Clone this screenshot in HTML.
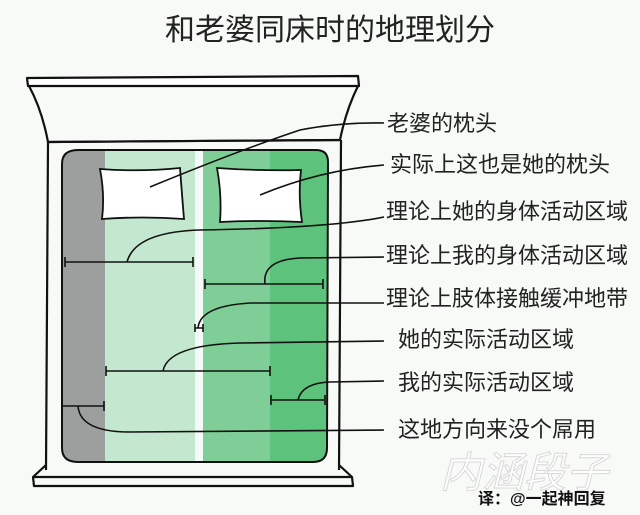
<!DOCTYPE html>
<html><head><meta charset="utf-8"><style>
html,body{margin:0;padding:0;background:#f7faf7;}
svg{display:block}
text{font-family:"Liberation Sans","Noto Sans CJK SC",sans-serif;fill:#222}
</style></head><body>
<svg width="640" height="515" viewBox="0 0 640 515" xmlns="http://www.w3.org/2000/svg">
<rect width="640" height="515" fill="#f7faf7"/>
<text x="330" y="40" font-size="30" text-anchor="middle">和老婆同床时的地理划分</text>
<g fill="none" stroke="#111" stroke-width="2.2" stroke-linejoin="round">
<path d="M27,78 L358,76 L359,86 L28,86 Z" fill="#fff"/>
<path d="M29,86 Q42,110 48,142 L340,140 Q346,110 358,86"/>
<line x1="48" y1="142" x2="340" y2="140"/>
<path d="M48,142 L46,470 M341,140 L339,470"/>
<path d="M46,465 L33,477 L34,486 L353,486 L352,477 L339,465"/>
<line x1="34" y1="477" x2="352" y2="477"/>
</g>
<defs><clipPath id="m"><path d="M78,150 L316,150 Q328,150 328,162 L327,448 Q327,462 313,462 L78,462 Q62,462 62,448 L62,164 Q62,150 78,150 Z"/></clipPath></defs>
<g clip-path="url(#m)">
<rect x="60" y="148" width="45" height="320" fill="#9d9f9e"/>
<rect x="105" y="148" width="90" height="320" fill="#c3e8cf"/>
<rect x="195" y="148" width="8" height="320" fill="#f4faf5"/>
<rect x="203" y="148" width="67" height="320" fill="#7fce97"/>
<rect x="270" y="148" width="60" height="320" fill="#5dc27c"/>
</g>
<path d="M78,150 L316,150 Q328,150 328,162 L327,448 Q327,462 313,462 L78,462 Q62,462 62,448 L62,164 Q62,150 78,150 Z" fill="none" stroke="#111" stroke-width="2"/>
<g fill="#fff" stroke="#111" stroke-width="1.8">
<path d="M100,169 Q140,172 180,168 Q182,195 184,219 Q142,216 102,219 Q105,195 100,169 Z"/>
<path d="M217,168 Q258,171 301,170 Q298,195 302,222 Q260,220 220,222 Q222,195 217,168 Z"/>
</g>
<g fill="none" stroke="#111" stroke-width="1.6">
<path d="M150,187 Q240,150 300,130 Q340,122 384,123"/>
<path d="M260,195 Q320,170 384,165"/>
<path d="M65,262 L193,262 M65,257 V267 M193,257 V267"/>
<path d="M127,262 Q135,232 200,230 Q330,228 384,217"/>
<path d="M205,284 L323,284 M205,279 V289 M323,279 V289"/>
<path d="M265,284 Q262,260 300,258 L384,257"/>
<path d="M195,328 L203,328 M195,324 V332 M203,324 V332"/>
<path d="M198,328 Q200,306 250,303 L384,303"/>
<path d="M106,371 L270,371 M106,366 V376 M270,366 V376"/>
<path d="M163,371 Q168,345 240,343 L384,341"/>
<path d="M271,400 L325,400 M271,395 V405 M325,395 V405"/>
<path d="M298,400 Q302,383 330,382 L384,381"/>
<path d="M62,406 L104,406 M62,401 V411 M104,401 V411"/>
<path d="M78,406 Q80,432 130,432 L384,430"/>
</g>
<g font-size="22">
<text x="387" y="131">老婆的枕头</text>
<text x="390" y="172">实际上这也是她的枕头</text>
<text x="386" y="219">理论上她的身体活动区域</text>
<text x="386" y="263">理论上我的身体活动区域</text>
<text x="386" y="306">理论上肢体接触缓冲地带</text>
<text x="398" y="347">她的实际活动区域</text>
<text x="398" y="390">我的实际活动区域</text>
<text x="398" y="437">这地方向来没个屌用</text>
</g>
<text x="440" y="487" font-size="42" font-style="italic" style="fill:#fff;stroke:#d8d8d8;stroke-width:1">内涵段子</text>
<text x="478" y="504" font-size="16" font-weight="bold" style="fill:#111">译：@一起神回复</text>
</svg>
</body></html>
